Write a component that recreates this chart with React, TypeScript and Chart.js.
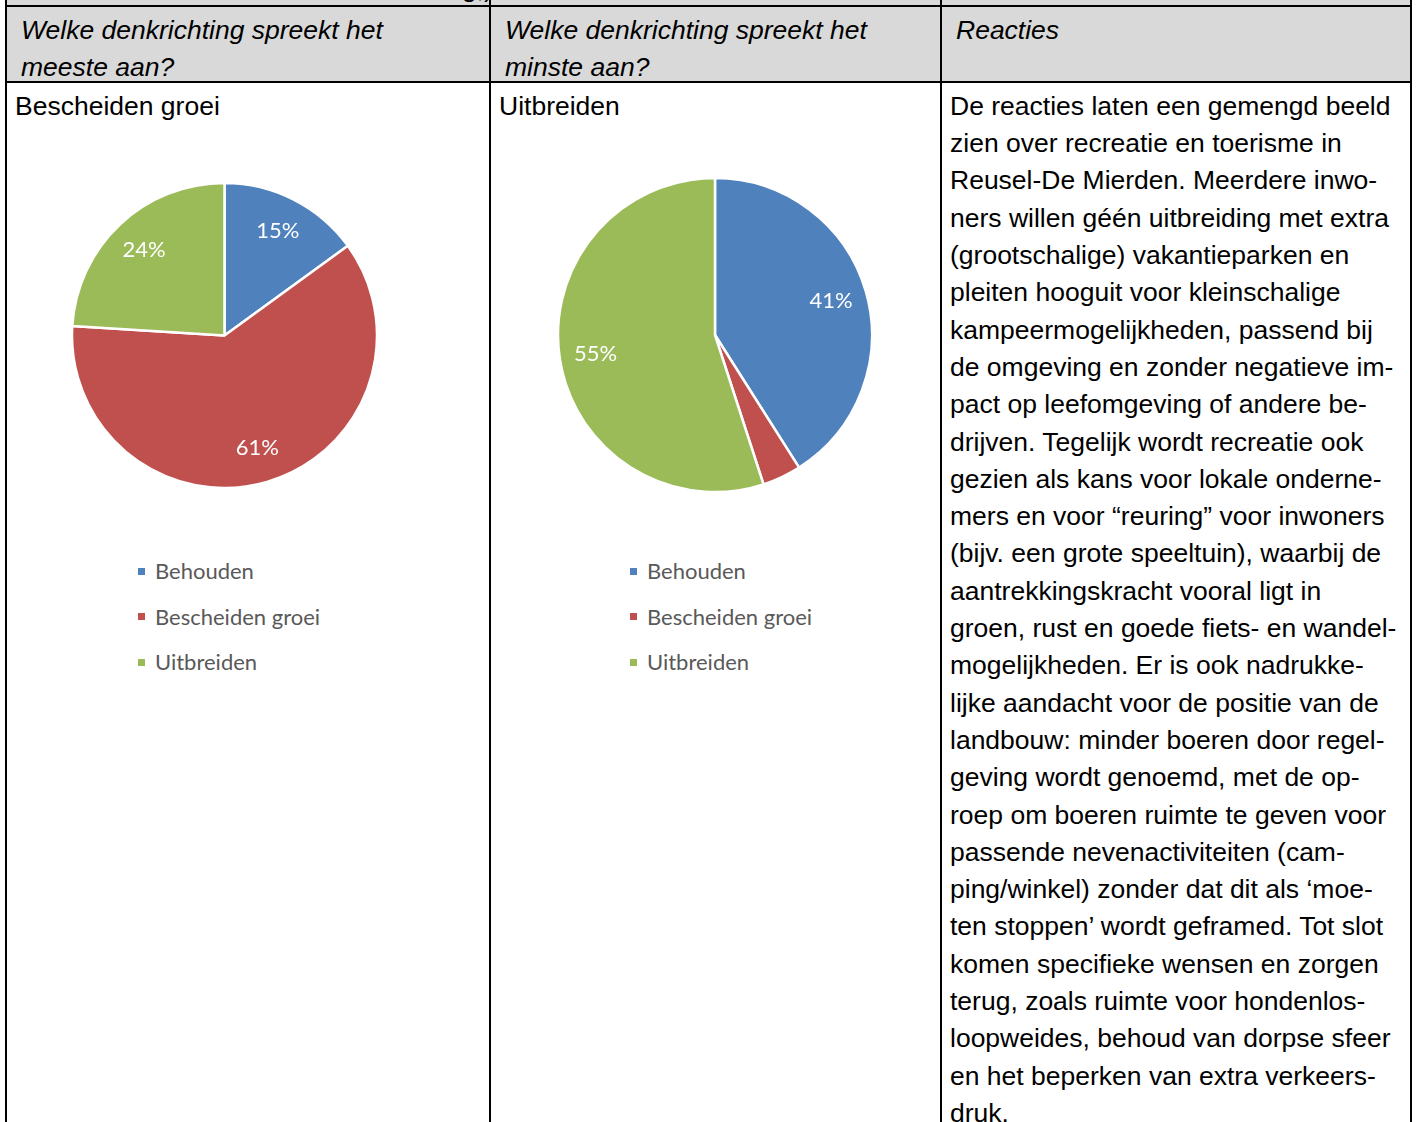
import React, { useEffect, useRef } from "react";
import { Chart, registerables } from "chart.js";
Chart.register(...registerables);

const categories = ["Behouden", "Bescheiden groei", "Uitbreiden"];
const meesteValues = [15, 61, 24];
const minsteValues = [41, 4, 55];
const sliceColors = ["#4F81BD", "#C0504D", "#9BBB59"];

const headerTexts = [
  ["Welke denkrichting spreekt het", "meeste aan?"],
  ["Welke denkrichting spreekt het", "minste aan?"],
  ["Reacties"],
];
const answerMeeste = "Bescheiden groei";
const answerMinste = "Uitbreiden";
const reactieLines = [
  "De reacties laten een gemengd beeld",
  "zien over recreatie en toerisme in",
  "Reusel-De Mierden. Meerdere inwo-",
  "ners willen géén uitbreiding met extra",
  "(grootschalige) vakantieparken en",
  "pleiten hooguit voor kleinschalige",
  "kampeermogelijkheden, passend bij",
  "de omgeving en zonder negatieve im-",
  "pact op leefomgeving of andere be-",
  "drijven. Tegelijk wordt recreatie ook",
  "gezien als kans voor lokale onderne-",
  "mers en voor “reuring” voor inwoners",
  "(bijv. een grote speeltuin), waarbij de",
  "aantrekkingskracht vooral ligt in",
  "groen, rust en goede fiets- en wandel-",
  "mogelijkheden. Er is ook nadrukke-",
  "lijke aandacht voor de positie van de",
  "landbouw: minder boeren door regel-",
  "geving wordt genoemd, met de op-",
  "roep om boeren ruimte te geven voor",
  "passende nevenactiviteiten (cam-",
  "ping/winkel) zonder dat dit als ‘moe-",
  "ten stoppen’ wordt geframed. Tot slot",
  "komen specifieke wensen en zorgen",
  "terug, zoals ruimte voor hondenlos-",
  "loopweides, behoud van dorpse sfeer",
  "en het beperken van extra verkeers-",
  "druk.",
];

const FONT = "'Liberation Sans', Arial, sans-serif";
const LINE_H = 37.3;
const FS = 26.5;

const sliceLabelPlugin = {
  id: "sliceLabels",
  afterDatasetsDraw(chart: any) {
    const ctx = chart.ctx;
    const meta = chart.getDatasetMeta(0);
    const data = chart.data.datasets[0].data as number[];
    ctx.save();
    ctx.fillStyle = "#ffffff";
    ctx.font = "22px Lato";
    ctx.textAlign = "center";
    ctx.textBaseline = "middle";
    meta.data.forEach((arc: any, i: number) => {
      const v = data[i];
      if (v < 5) return;
      const p = arc.getProps(["x", "y", "startAngle", "endAngle", "outerRadius"], true);
      const mid = (p.startAngle + p.endAngle) / 2;
      const r = p.outerRadius * 0.77;
      ctx.fillText(v + "%", p.x + Math.cos(mid) * r, p.y + Math.sin(mid) * r);
    });
    ctx.restore();
  },
};

function Pie({ values, cx, cy, radius }: { values: number[]; cx: number; cy: number; radius: number }) {
  const ref = useRef<HTMLCanvasElement | null>(null);
  const size = Math.round(radius * 2 + 6);
  useEffect(() => {
    if (!ref.current) return;
    const chart = new Chart(ref.current, {
      type: "pie",
      data: {
        labels: categories,
        datasets: [
          {
            data: values,
            backgroundColor: sliceColors,
            borderColor: "#ffffff",
            borderWidth: 2.5,
            radius: radius,
            hoverOffset: 0,
          } as any,
        ],
      },
      options: {
        animation: false,
        responsive: false,
        maintainAspectRatio: false,
        events: [],
        layout: { padding: 0 },
        plugins: { legend: { display: false }, tooltip: { enabled: false } },
      },
      plugins: [sliceLabelPlugin],
    });
    return () => chart.destroy();
  }, []);
  return (
    <canvas
      ref={ref}
      width={size}
      height={size}
      style={{ position: "absolute", left: cx - size / 2, top: cy - size / 2, width: size, height: size }}
    />
  );
}

function Legend({ left, top }: { left: number; top: number }) {
  return (
    <div style={{ position: "absolute", left, top }}>
      {categories.map((c, i) => (
        <div key={c} style={{ position: "absolute", left: 0, top: i * 45.5 - 14, height: 28, whiteSpace: "nowrap", display: "flex", alignItems: "center" }}>
          <span style={{ display: "inline-block", width: 7, height: 7, background: sliceColors[i], marginRight: 10 }} />
          <span style={{ font: "22px Lato", color: "#595959", lineHeight: "28px" }}>{c}</span>
        </div>
      ))}
    </div>
  );
}

function Line({ x, y, w, h }: { x: number; y: number; w: number; h: number }) {
  return <div style={{ position: "absolute", left: x, top: y, width: w, height: h, background: "#000" }} />;
}

function TextLines({ lines, left, top, italic }: { lines: string[]; left: number; top: number; italic?: boolean }) {
  return (
    <div style={{ position: "absolute", left, top }}>
      {lines.map((l, i) => (
        <div
          key={i}
          style={{
            position: "absolute",
            left: 0,
            top: i * LINE_H - LINE_H / 2,
            height: LINE_H,
            lineHeight: LINE_H + "px",
            whiteSpace: "nowrap",
            font: `${italic ? "italic " : ""}${FS}px ${FONT}`,
            color: "#000",
          }}
        >
          {l}
        </div>
      ))}
    </div>
  );
}

export default function App() {
  useEffect(() => {
    document.body.style.margin = "0";
  }, []);
  const colX = [5, 489, 940, 1410];
  return (
    <div style={{ position: "absolute", left: 0, top: 0, width: 1416, height: 1122, background: "#fff", overflow: "hidden" }}>
      {/* top strip */}
      <div style={{ position: "absolute", left: 5, top: 0, width: 1407, height: 6, background: "#d9d9d9" }} />
      <div style={{ position: "absolute", left: 462, top: -27, font: `${FS}px ${FONT}`, lineHeight: "30px", whiteSpace: "nowrap", color: "#000" }}>g,)</div>
      {/* header background */}
      <div style={{ position: "absolute", left: 5, top: 6, width: 1407, height: 77, background: "#d9d9d9" }} />
      <Line x={5} y={5} w={1407} h={2} />
      <Line x={5} y={81} w={1407} h={2} />
      {colX.map((x) => (
        <Line key={x} x={x} y={0} w={2} h={1122} />
      ))}
      <TextLines lines={headerTexts[0]} left={21} top={33.5} italic />
      <TextLines lines={headerTexts[1]} left={505} top={33.5} italic />
      <TextLines lines={headerTexts[2]} left={956} top={33.5} italic />
      <TextLines lines={[answerMeeste]} left={15} top={109.5} />
      <TextLines lines={[answerMinste]} left={499} top={109.5} />
      <TextLines lines={reactieLines} left={950} top={109.5} />
      <Pie values={meesteValues} cx={224} cy={335.5} radius={152.5} />
      <Pie values={minsteValues} cx={715} cy={335} radius={157} />
      <Legend left={138} top={571} />
      <Legend left={630} top={571} />
    </div>
  );
}
